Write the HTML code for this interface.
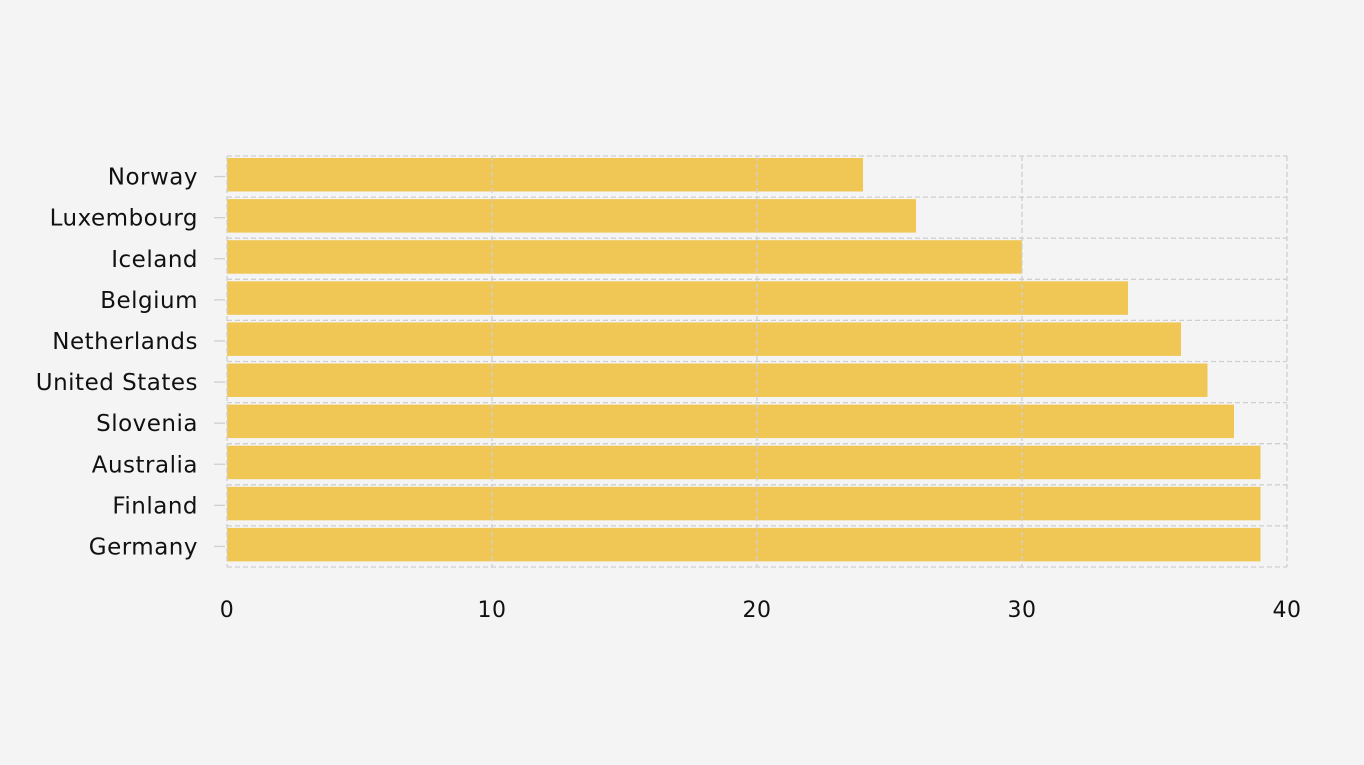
<!DOCTYPE html>
<html><head><style>body{margin:0;background:#f4f4f4;}svg{display:block}</style></head><body>
<svg width="1364" height="765" xmlns="http://www.w3.org/2000/svg" font-family="DejaVu Sans, sans-serif">
<rect width="1364" height="765" fill="#f4f4f4"/>
<g id="bars" fill="#f0c755"></g>
<g id="grid" stroke="#cfcfcf" stroke-width="1.3" stroke-dasharray="5,3" fill="none"></g>
<g id="lab" font-size="23" letter-spacing="0.5" fill="#111" text-anchor="end"></g>
<g font-size="22" letter-spacing="0.5" fill="#111" text-anchor="middle">
<text x="227" y="617">0</text><text x="492" y="617">10</text><text x="757" y="617">20</text><text x="1022" y="617">30</text><text x="1287" y="617">40</text>
</g>
<script>
var names=["Norway","Luxembourg","Iceland","Belgium","Netherlands","United States","Slovenia","Australia","Finland","Germany"];
var vals=[24,26,30,34,36,37,38,39,39,39];
var ns="http://www.w3.org/2000/svg",b=document.getElementById("bars"),g=document.getElementById("grid"),l=document.getElementById("lab");
function el(p,t,a){var e=document.createElementNS(ns,t);for(var k in a)e.setAttribute(k,a[k]);p.appendChild(e);return e;}
var top0=156,h=41.1,x0=227,s=26.5;
for(var i=0;i<10;i++){var y=top0+h*i;
el(b,"rect",{x:x0,y:y+2,width:vals[i]*s,height:33.5});
var t=el(l,"text",{x:198,y:y+h/2+8});t.textContent=names[i];
el(g,"line",{x1:214,x2:225,y1:y+h/2,y2:y+h/2,"stroke-dasharray":"none"});
}
for(var i=0;i<=10;i++){var y=top0+h*i;el(g,"line",{x1:x0,x2:1287,y1:y,y2:y});}
for(var j=0;j<=4;j++){var x=x0+j*265;el(g,"line",{x1:x,x2:x,y1:top0,y2:top0+h*10});}
</script>
</svg>
</body></html>
